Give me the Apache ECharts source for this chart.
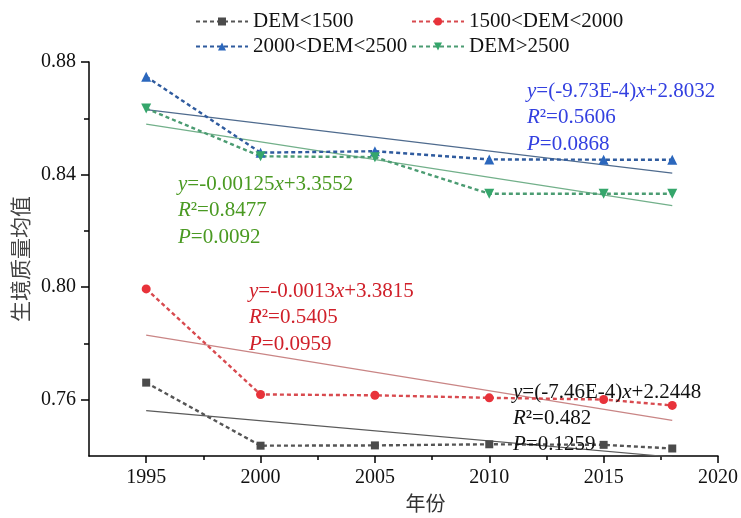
<!DOCTYPE html>
<html><head><meta charset="utf-8">
<script src="https://cdn.jsdelivr.net/npm/echarts@6/dist/echarts.min.js"></script>
<style>html,body{margin:0;padding:0;background:#fff}#c{width:741px;height:518px}</style>
</head><body><div id="c"></div>
<script>
// ---- data ----
const years = [1995, 2000, 2005, 2010, 2015, 2018];
const demLt1500 = [0.7661, 0.7437, 0.7438, 0.7442, 0.7440, 0.7427];
const dem1500to2000 = [0.7994, 0.7619, 0.7616, 0.7607, 0.7601, 0.7580];
const dem2000to2500 = [0.8748, 0.8478, 0.8483, 0.8454, 0.8453, 0.8453];
const demGt2500 = [0.8635, 0.8465, 0.8462, 0.8332, 0.8332, 0.8332];
const seriesNames = ['DEM<1500', '1500<DEM<2000', '2000<DEM<2500', 'DEM>2500'];
const xMajorTicks = [1995, 2000, 2005, 2010, 2015, 2020];
const xMinorTicks = [1997.5, 2002.5, 2007.5, 2012.5, 2017.5];
const yMajorTicks = [0.76, 0.80, 0.84, 0.88];
const yMinorTicks = [0.78, 0.82, 0.86];
const annGreen = ['{i|y}=-0.00125{i|x}+3.3552', '{i|R}²=0.8477', '{i|P}=0.0092'];
const annRed = ['{i|y}=-0.0013{i|x}+3.3815', '{i|R}²=0.5405', '{i|P}=0.0959'];
const annBlue = ['{i|y}=(-9.73E-4){i|x}+2.8032', '{i|R}²=0.5606', '{i|P}=0.0868'];
const annBlack = ['{i|y}=(-7.46E-4){i|x}+2.2448', '{i|R}²=0.482', '{i|P}=0.1259'];

// least-squares trend line through the data, drawn from first to last year
function trend(xs, ys) {
  const n = xs.length;
  const mx = xs.reduce((a, b) => a + b, 0) / n;
  const my = ys.reduce((a, b) => a + b, 0) / n;
  let sxy = 0, sxx = 0;
  for (let i = 0; i < n; i++) { sxy += (xs[i] - mx) * (ys[i] - my); sxx += (xs[i] - mx) ** 2; }
  const b = sxy / sxx, a = my - b * mx;
  return [[xs[0], a + b * xs[0]], [xs[n - 1], a + b * xs[n - 1]]];
}
const pairs = ys => years.map((y, i) => [y, ys[i]]);

const SERIF = 'Liberation Serif, Times New Roman, serif';
const CJK = 'Noto Sans CJK SC, sans-serif';

const styles = [
  { data: demLt1500, color: '#4b4b4b', line: '#555555', symbol: 'rect', size: 8, rot: 0, trend: '#5a5a5a' },
  { data: dem1500to2000, color: '#e8323a', line: '#d84a4f', symbol: 'circle', size: 9, rot: 0, trend: '#c98585' },
  { data: dem2000to2500, color: '#2b67bd', line: '#2f5b9e', symbol: 'triangle', size: 10, rot: 0, trend: '#4f6b8e' },
  { data: demGt2500, color: '#35a66b', line: '#4b9c72', symbol: 'triangle', size: 10, rot: 180, trend: '#72b08a' }
];

const series = [];
styles.forEach((s, i) => {
  series.push({
    name: seriesNames[i] + ' trend', type: 'line', data: trend(years, s.data),
    symbol: 'none', silent: true, z: 1, clip: true,
    lineStyle: { color: s.trend, width: 1.2 }
  });
});
styles.forEach((s, i) => {
  series.push({
    name: seriesNames[i], type: 'line', data: pairs(s.data), z: 3, clip: false,
    symbol: s.symbol, symbolSize: s.size, symbolRotate: s.rot,
    itemStyle: { color: s.color },
    lineStyle: { color: s.line, width: 2.4, type: [4, 3] }
  });
});

function ann(lines, color, x, y0, gap) {
  return lines.map((t, k) => ({
    type: 'text', x: x, y: y0 + k * gap, z: 10,
    style: {
      text: t, fill: color, fontSize: 21, fontFamily: SERIF, verticalAlign: 'middle',
      rich: { i: { fontStyle: 'italic', fill: color, fontSize: 21, fontFamily: SERIF } }
    }
  }));
}

const legendCommon = {
  orient: 'vertical', itemWidth: 52, itemHeight: 10, itemGap: 4,
  textStyle: { fontSize: 21, fontFamily: SERIF, color: '#111', lineHeight: 21 }
};

const chart = echarts.init(document.getElementById('c'));
chart.setOption({
  animation: false,
  backgroundColor: '#fff',
  grid: { left: 89, right: 23, top: 62, bottom: 56 },
  legend: [
    Object.assign({ left: 190, top: 6, data: [seriesNames[0], seriesNames[2]] }, legendCommon),
    Object.assign({ left: 406, top: 6, data: [seriesNames[1], seriesNames[3]] }, legendCommon)
  ],
  xAxis: [
    {
      type: 'value', min: 1992.5, max: 2020, interval: 2.5,
      name: '年份', nameLocation: 'middle', nameGap: 32,
      nameTextStyle: { fontFamily: CJK, fontSize: 20, color: '#333', padding: [0, 0, 0, 44] },
      axisLine: { show: true, lineStyle: { color: '#000', width: 1.5 } },
      axisTick: { show: true, customValues: xMajorTicks, length: 7, lineStyle: { color: '#000', width: 1.5 } },
      axisLabel: { customValues: xMajorTicks, formatter: v => String(v), fontSize: 20, fontFamily: SERIF, color: '#111', margin: 12 },
      splitLine: { show: false }
    },
    {
      type: 'value', min: 1992.5, max: 2020, interval: 2.5, position: 'bottom', offset: 0,
      axisLine: { show: false },
      axisTick: { show: true, customValues: xMinorTicks, length: 4, lineStyle: { color: '#000', width: 1.5 } },
      axisLabel: { show: false }, splitLine: { show: false }
    }
  ],
  yAxis: [
    {
      type: 'value', min: 0.74, max: 0.88, interval: 0.02,
      name: '生境质量均值', nameLocation: 'middle', nameGap: 48, nameRotate: 90,
      nameTextStyle: { fontFamily: CJK, fontSize: 21, color: '#444' },
      axisLine: { show: true, lineStyle: { color: '#000', width: 1.5 } },
      axisTick: { show: true, customValues: yMajorTicks, length: 8, lineStyle: { color: '#000', width: 1.5 } },
      axisLabel: { customValues: yMajorTicks, formatter: v => v.toFixed(2), fontSize: 20, fontFamily: SERIF, color: '#111', margin: 13 },
      splitLine: { show: false }
    },
    {
      type: 'value', min: 0.74, max: 0.88, interval: 0.02, position: 'left', offset: 0,
      axisLine: { show: false },
      axisTick: { show: true, customValues: yMinorTicks, length: 5, lineStyle: { color: '#000', width: 1.5 } },
      axisLabel: { show: false }, splitLine: { show: false }
    }
  ],
  graphic: [].concat(
    ann(annBlue, '#3340e0', 527, 91, 26.5),
    ann(annGreen, '#4a9a22', 178, 184, 26.5),
    ann(annRed, '#d0202a', 249, 291, 26.5),
    ann(annBlack, '#111111', 513, 392, 26)
  ),
  series: series
});
</script>
</body></html>
